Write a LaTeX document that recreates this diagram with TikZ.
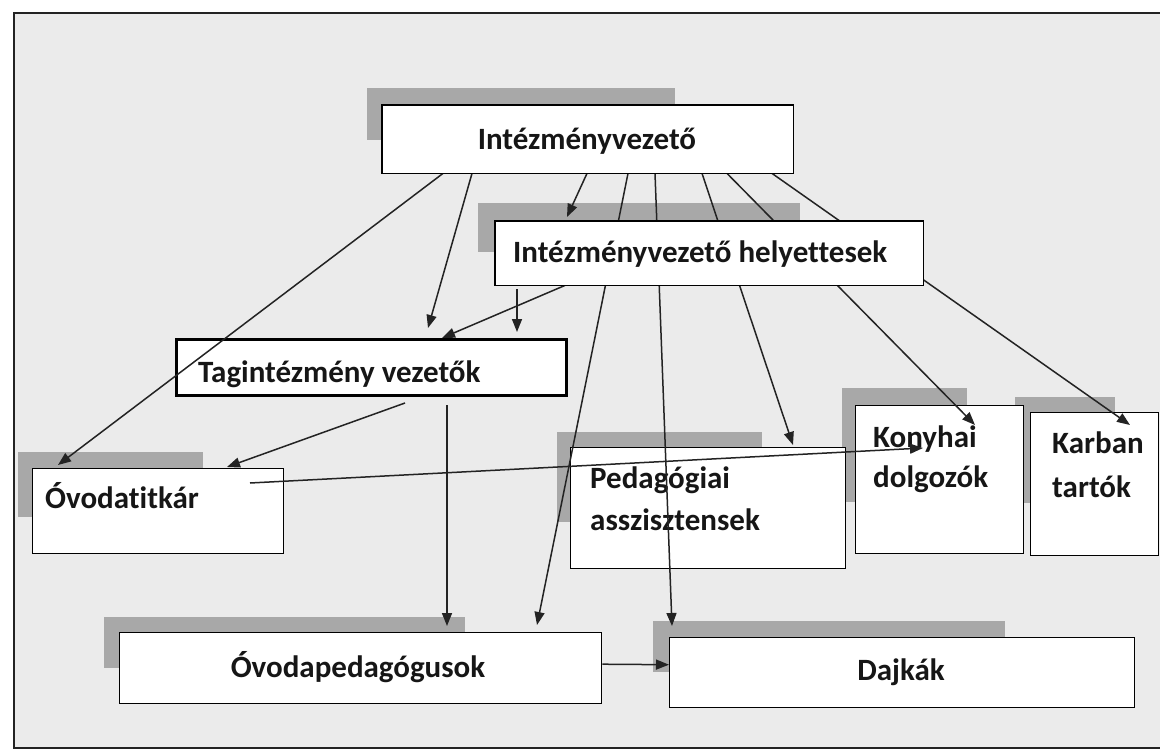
\documentclass[tikz,border=0pt]{standalone}
\usepackage{fontspec}
\setmainfont{Carlito}[Ligatures={NoCommon}]
\usetikzlibrary{arrows.meta,calc}
\definecolor{bggray}{RGB}{235,235,235}
\definecolor{shadowgray}{RGB}{168,168,168}
\definecolor{linec}{RGB}{35,35,35}
\definecolor{txt}{RGB}{22,22,22}
\begin{document}
\begin{tikzpicture}[x=1pt,y=-1pt,
  shadowfill/.style={fill=shadowgray, draw=none},
  box/.style={draw=black, fill=white, line width=1.4pt, inner sep=0pt, anchor=north west},
  lbl/.style={inner sep=0pt, font=\fontsize{31}{37}\selectfont\bfseries, text=txt},
  conn/.style={draw=linec, line width=1.5pt, -{Triangle[length=13pt,width=10pt]}},
]
\useasboundingbox (0,0) rectangle (1160,752);
% background and frame
\fill[white] (0,0) rectangle (1160,752);
\fill[bggray] (14,13) rectangle (1160,748);
\draw[line width=1.8pt, draw=linec] (1160,13) -- (14,13) -- (14,748) -- (1160,748);

% shadows
\fill[shadowfill] (367,88) rectangle (675,140);
\fill[shadowfill] (18,452) rectangle (203,517);
\fill[shadowfill] (557,432) rectangle (762,522);
\fill[shadowfill] (842,388) rectangle (967,502);
\fill[shadowfill] (1015,397) rectangle (1115,503);
\fill[shadowfill] (104,617) rectangle (465,668);
\fill[shadowfill] (653,621) rectangle (1005,672);
\fill[shadowfill] (478,203) rectangle (800,252);

% lower boxes
\node[box, line width=3pt, minimum width=390pt, minimum height=56pt] (tag) at (175,338) {};
\node[lbl, anchor=base west] (tagT) at (198,382) {Tagintézmény vezetők};
\node[box, minimum width=251pt, minimum height=85pt] (ovt) at (32,468) {};
\node[lbl, anchor=base west] (ovtT) at (45,508) {Óvodatitkár};
\node[box, minimum width=275pt, minimum height=121pt] (ped) at (570,447) {};
\node[lbl, anchor=base west] (pedT1) at (590,488) {Pedagógiai};
\node[lbl, anchor=base west] (pedT2) at (590,530) {asszisztensek};
\node[box, minimum width=168pt, minimum height=148pt] (kony) at (855,405) {};
\node[lbl, anchor=base west] (konyT1) at (873,447) {Konyhai};
\node[lbl, anchor=base west] (konyT2) at (873,487) {dolgozók};
\node[box, minimum width=128pt, minimum height=143pt] (karb) at (1030,412) {};
\node[lbl, anchor=base west] (karbT1) at (1052,453) {Karban};
\node[lbl, anchor=base west] (karbT2) at (1052,497) {tartók};
\node[box, minimum width=482pt, minimum height=71pt] (ovp) at (119,632) {};
\node[lbl, anchor=base] (ovpT) at (358,677) {Óvodapedagógusok};
\node[box, minimum width=465pt, minimum height=70pt] (dajk) at (669,637) {};
\node[lbl, anchor=base] (dajkT) at (901,680) {Dajkák};

% top boxes (geometry only, for connectors)
\node[box, draw=none, fill=none, minimum width=410pt, minimum height=67pt] (iv) at (382,105) {};
\node[box, draw=none, fill=none, minimum width=427pt, minimum height=63pt] (hely) at (495,221) {};

% connectors
\draw[conn] ($(iv.south west)+(61,0)$) -- ($(ovt.north west)+(26,-3)$);
\draw[conn] ($(iv.south west)+(90,0)$) -- ($(tag.north west)+(253,-10)$);
\draw[conn] ($(iv.south west)+(205,0)$) -- ($(hely.north west)+(72,-4)$);
\draw[conn] ($(iv.south west)+(246,0)$) -- ($(ovp.north west)+(418,-7)$);
\draw[conn] ($(iv.south west)+(273,0)$) -- ($(dajk.north west)+(3,-11)$);
\draw[conn] ($(iv.south west)+(320,0)$) -- ($(ped.north west)+(223,-2)$);
\draw[conn] ($(iv.south west)+(345,0)$) -- ($(kony.north west)+(120,20)$);
\draw[conn] ($(iv.south west)+(390,0)$) -- ($(karb.north west)+(100,13)$);
\draw[conn] ($(hely.south west)+(70,0)$) -- ($(tag.north west)+(267,0)$);
\draw[conn] ($(hely.south west)+(22,4)$) -- ($(tag.north west)+(342,-6)$);
\draw[conn] ($(tag.south west)+(230,6)$) -- ($(ovt.north west)+(195,-1)$);
\draw[conn] ($(tag.south west)+(272,8)$) -- ($(ovp.north west)+(328,-6)$);
\draw[conn] ($(ovt.north west)+(218,15)$) -- ($(kony.north west)+(68,43)$);
\draw[conn] ($(ovp.east)+(0,-4)$) -- ($(dajk.west)+(0,-8)$);

% top boxes drawn above the connectors
\fill[white] (iv.north west) rectangle (iv.south east);
\draw[line width=1.4pt] (iv.north west) rectangle (iv.south east);
\node[lbl, anchor=base] (ivT) at (587,149) {Intézményvezető};
\fill[white] (hely.north west) rectangle (hely.south east);
\draw[line width=1.4pt] (hely.north west) rectangle (hely.south east);
\node[lbl, anchor=base west] (helyT) at (513,262) {Intézményvezető helyettesek};
\end{tikzpicture}
\end{document}
